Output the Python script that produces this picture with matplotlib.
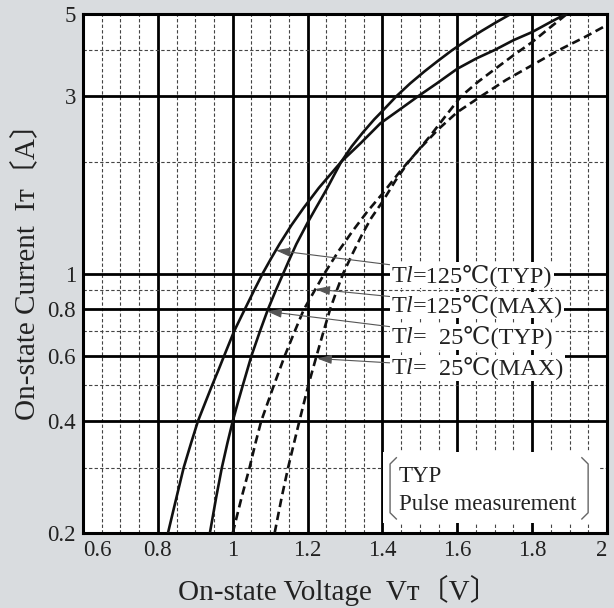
import numpy as np
import matplotlib
matplotlib.use('Agg')
import matplotlib.pyplot as plt
import matplotlib.ticker as mticker
from matplotlib.offsetbox import TextArea, HPacker, AnnotationBbox
from matplotlib.patches import Rectangle
from matplotlib.lines import Line2D

FAM = ['Liberation Serif', 'DejaVu Serif', 'DejaVu Sans', 'Noto Sans CJK JP']
plt.rcParams['font.family'] = FAM

# ---------------- data ----------------
x_ticks = [0.6, 0.8, 1.0, 1.2, 1.4, 1.6, 1.8, 2.0]
x_tick_labels = ['0.6', '0.8', '1', '1.2', '1.4', '1.6', '1.8', '2']
y_ticks = [0.2, 0.4, 0.6, 0.8, 1, 3, 5]
y_tick_labels = ['0.2', '0.4', '0.6', '0.8', '1', '3', '5']
y_minor = [0.3, 0.5, 0.7, 0.9, 2, 4]

# Tl=125C (TYP) solid
a_v = [0.827, 0.850, 0.869, 0.889, 0.907, 0.927, 0.945, 0.962, 0.977, 0.991, 1.004, 1.032, 1.057,
       1.080, 1.103, 1.125, 1.157, 1.189, 1.230, 1.290, 1.343, 1.395, 1.443, 1.495, 1.545, 1.600,
       1.652, 1.700, 1.750, 1.800, 1.848, 1.890]
a_i = [0.2, 0.25, 0.3, 0.35, 0.4, 0.45, 0.5, 0.55, 0.6, 0.65, 0.7, 0.8, 0.9,
       1.0, 1.1, 1.2, 1.35, 1.5, 1.7, 2.0, 2.25, 2.54, 2.75, 3.0, 3.25, 3.56,
       3.8, 4.0, 4.25, 4.47, 4.75, 5.0]
# Tl=25C (TYP) solid
b_v = [0.939, 0.956, 0.971, 0.986, 1.000, 1.014, 1.027, 1.050, 1.073, 1.094, 1.115, 1.135, 1.153,
       1.170, 1.200, 1.222, 1.250, 1.272, 1.290, 1.318, 1.348, 1.378, 1.400, 1.437, 1.474, 1.512,
       1.550, 1.587, 1.626, 1.665, 1.704, 1.743]
b_i = [0.2, 0.25, 0.3, 0.35, 0.4, 0.45, 0.5, 0.6, 0.7, 0.8, 0.9, 1.0, 1.1,
       1.2, 1.37, 1.5, 1.68, 1.85, 2.0, 2.2, 2.4, 2.6, 2.74, 3.0, 3.25, 3.5,
       3.75, 4.0, 4.25, 4.5, 4.75, 5.0]
# Tl=125C (MAX) dashed
c_v = [1.000, 1.024, 1.045, 1.061, 1.076, 1.110, 1.139, 1.166, 1.190, 1.219, 1.245, 1.283, 1.320,
       1.360, 1.400, 1.450, 1.500, 1.550, 1.600, 1.663, 1.730, 1.800, 1.872, 1.940, 2.000]
c_i = [0.2, 0.25, 0.3, 0.35, 0.4, 0.5, 0.6, 0.7, 0.8, 0.9, 1.0, 1.15, 1.3,
       1.47, 1.64, 1.90, 2.17, 2.45, 2.72, 3.0, 3.32, 3.64, 4.0, 4.33, 4.67]
# Tl=25C (MAX) dashed
d_v = [1.112, 1.131, 1.148, 1.164, 1.178, 1.202, 1.224, 1.243, 1.260, 1.278, 1.295, 1.320, 1.345,
       1.370, 1.400, 1.435, 1.470, 1.525, 1.568, 1.610, 1.655, 1.700, 1.750, 1.800, 1.848, 1.893]
d_i = [0.2, 0.25, 0.3, 0.35, 0.4, 0.5, 0.6, 0.7, 0.8, 0.9, 1.0, 1.13, 1.27,
       1.41, 1.56, 1.78, 2.0, 2.33, 2.65, 3.0, 3.28, 3.55, 3.87, 4.2, 4.6, 5.0]

series_names = ['Tl=125℃(TYP)', 'Tl=125℃(MAX)', 'Tl=  25℃(TYP)', 'Tl=  25℃(MAX)']
# ---------------------------------------

BG = '#d9dcdf'
fig = plt.figure(figsize=(6.14, 6.08), dpi=100, facecolor=BG)
ax = fig.add_axes([83/614, 1-533/608, 524/614, 519/608])
ax.set_facecolor('white')
ax.set_yscale('log')
ax.set_xlim(0.6, 2.0)
ax.set_ylim(0.2, 5)

ax.xaxis.set_major_locator(mticker.FixedLocator(x_ticks))
ax.xaxis.set_major_formatter(mticker.FixedFormatter(x_tick_labels))
ax.xaxis.set_minor_locator(mticker.MultipleLocator(0.05))
ax.yaxis.set_major_locator(mticker.FixedLocator(y_ticks))
ax.yaxis.set_major_formatter(mticker.FixedFormatter(y_tick_labels))
ax.yaxis.set_minor_locator(mticker.FixedLocator(y_minor))
ax.yaxis.set_minor_formatter(mticker.NullFormatter())
ax.tick_params(which='both', length=0, labelsize=16.5, labelcolor='#222')
ax.tick_params(axis='x', pad=5)
ax.tick_params(axis='y', pad=5)

ax.set_axisbelow(True)
ax.grid(which='minor', color='#444', lw=0.8, linestyle=(0, (3, 2)))
ax.grid(which='major', color='black', lw=2.0)
for s in ax.spines.values():
    s.set_linewidth(2.2)
    s.set_color('black')

xl = ax.get_xticklabels()
xl[0].set_ha('left')
xl[-1].set_ha('right')

lw = 1.9
ax.plot(a_v, a_i, color='#111', lw=lw, zorder=4)
ax.plot(b_v, b_i, color='#111', lw=lw, zorder=4)
ax.plot(c_v, c_i, color='#111', lw=lw, zorder=4, linestyle=(0, (3.2, 1.8)))
ax.plot(d_v, d_i, color='#111', lw=lw, zorder=4, linestyle=(0, (3.2, 1.8)))

# labels with leader arrows
tips = [(1.115, np.interp(1.115, a_v, a_i)),
        (1.221, np.interp(1.221, c_v, c_i)),
        (1.092, np.interp(1.092, b_v, b_i)),
        (np.interp(0.59, d_i, d_v) + 0.004, 0.59)]
ypos = [0.497, 0.439, 0.378, 0.318]
fs = 17.5
for name, tip, yp in zip(series_names, tips, ypos):
    post = name[2:]
    parts = [TextArea('T', textprops=dict(fontsize=fs, color='#222', family=FAM)),
             TextArea('l', textprops=dict(fontsize=fs, color='#222', style='italic', family=FAM)),
             TextArea(post, textprops=dict(fontsize=fs, color='#222', family=FAM))]
    box = HPacker(children=parts, align='baseline', pad=0, sep=0)
    ab = AnnotationBbox(box, tip, xybox=(0.588, yp), xycoords='data',
                        boxcoords='axes fraction', box_alignment=(0, 0.5),
                        frameon=True, pad=0.1,
                        bboxprops=dict(facecolor='white', edgecolor='none'),
                        arrowprops=dict(arrowstyle='-|>,head_length=0.45,head_width=0.14',
                                        color='#555', lw=0.8, shrinkA=0, shrinkB=0,
                                        mutation_scale=14),
                        zorder=5)
    ax.add_artist(ab)

# TYP / Pulse measurement note
ax.add_patch(Rectangle((0.573, 0.019), 0.41, 0.137, transform=ax.transAxes,
                       facecolor='white', edgecolor='none', zorder=3))
yb, yt = 0.031, 0.141
for x0, d in [(0.586, 1), (0.964, -1)]:
    ax.add_line(Line2D([x0 + d*0.012, x0, x0, x0 + d*0.012],
                       [yt + 0.004, yt - 0.008, yb + 0.008, yb - 0.004],
                       transform=ax.transAxes, color='#666', lw=1.0, zorder=6))
ax.text(0.603, 0.098, 'TYP', transform=ax.transAxes, fontsize=16.5, color='#222',
        va='baseline', ha='left', zorder=6)
ax.text(0.603, 0.044, 'Pulse measurement', transform=ax.transAxes, fontsize=16.5,
        color='#222', va='baseline', ha='left', zorder=6)

fig.text(338/614, 1-590/608, 'On-state Voltage  Vᴛ〔V〕', ha='center', va='center',
         fontsize=21, color='#222')
fig.text(26/614, 1-265/608, 'On-state Current  Iᴛ〔A〕', ha='center', va='center',
         rotation=90, fontsize=21, color='#222')

fig.savefig('out.png', dpi=100, facecolor=BG)
